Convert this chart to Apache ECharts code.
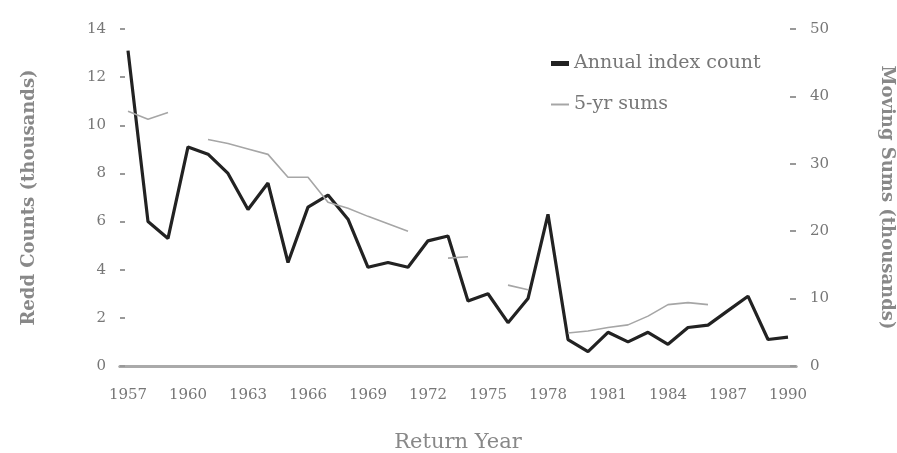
<!DOCTYPE html>
<html>
<head>
<meta charset="utf-8">
<script src="https://cdn.jsdelivr.net/npm/echarts@6/dist/echarts.min.js"></script>
<style>
  html, body { margin: 0; padding: 0; background: #fff; }
  #chart { width: 897px; height: 453px; }
</style>
</head>
<body>
<div id="chart"></div>
<script>
const years = [1957, 1958, 1959, 1960, 1961, 1962, 1963, 1964, 1965, 1966, 1967, 1968,
  1969, 1970, 1971, 1972, 1973, 1974, 1975, 1976, 1977, 1978, 1979, 1980, 1981, 1982,
  1983, 1984, 1985, 1986, 1987, 1988, 1989, 1990];

// redd counts, thousands (left axis)
const annualCounts = [13.1, 6.0, 5.3, 9.1, 8.8, 8.0, 6.5, 7.6, 4.3, 6.6, 7.1, 6.1,
  4.1, 4.3, 4.1, 5.2, 5.4, 2.7, 3.0, 1.8, 2.8, 6.3, 1.1, 0.6, 1.4, 1.0,
  1.4, 0.9, 1.6, 1.7, 2.3, 2.9, 1.1, 1.2];

// moving 5-yr sums, thousands (right axis); null where the line is missing
const fiveYrSums = [37.8, 36.6, 37.6, null, 33.6, 33.0, 32.2, 31.4, 28.0, 28.0, 24.3, 23.4,
  22.2, 21.1, 20.0, null, 16.0, 16.2, null, 12.0, 11.3, null, 4.9, 5.2, 5.7, 6.1,
  7.4, 9.1, 9.4, 9.1, null, null, null, null];

const yearLabels = [1957, 1960, 1963, 1966, 1969, 1972, 1975, 1978, 1981, 1984, 1987, 1990];

const font = 'DejaVu Serif';
const labelColor = '#777';
const frameColor = '#aaa';
const annualColor = '#222';
const sumsColor = '#a6a6a6';

const chart = echarts.init(document.getElementById('chart'));

const legendText = { fontFamily: font, fontSize: 19, color: labelColor };

chart.setOption({
  animation: false,
  backgroundColor: '#fff',
  textStyle: { fontFamily: font },
  grid: { left: 120, right: 101, top: 29, bottom: 87, outerBoundsMode: 'none' },
  legend: [
    {
      left: 546, top: 49,
      itemWidth: 18, itemHeight: 5,
      icon: 'rect',
      textStyle: legendText,
      data: ['Annual index count']
    },
    {
      left: 546, top: 90,
      itemWidth: 18, itemHeight: 2,
      icon: 'rect',
      textStyle: legendText,
      data: ['5-yr sums']
    }
  ],
  xAxis: [
    {
      type: 'value',
      min: 1956.6,
      max: 1990.4,
      name: 'Return Year',
      nameLocation: 'middle',
      nameGap: 66,
      nameTextStyle: { fontFamily: font, fontSize: 21, color: '#888' },
      axisLine: { show: true, lineStyle: { color: frameColor, width: 3 } },
      axisTick: { show: false },
      splitLine: { show: false },
      axisLabel: {
        customValues: yearLabels,
        margin: 22,
        fontSize: 15,
        color: labelColor,
        formatter: v => String(v)
      }
    },
    {
      type: 'value',
      position: 'top',
      min: 1956.6,
      max: 1990.4,
      axisLine: { show: true, lineStyle: { color: frameColor, width: 3 } },
      axisTick: { show: false },
      axisLabel: { show: false },
      splitLine: { show: false }
    }
  ],
  yAxis: [
    {
      type: 'value',
      min: 0,
      max: 14,
      interval: 2,
      name: 'Redd Counts (thousands)',
      nameLocation: 'middle',
      nameRotate: 90,
      nameGap: 82,
      nameTextStyle: { fontFamily: font, fontSize: 18, fontWeight: 'bold', color: '#888' },
      axisLine: { show: false },
      axisTick: { show: true, inside: true, length: 5, lineStyle: { color: '#999', width: 2 } },
      splitLine: { show: false },
      axisLabel: { margin: 14, fontSize: 15, color: labelColor }
    },
    {
      type: 'value',
      min: 0,
      max: 50,
      interval: 10,
      position: 'right',
      name: 'Moving Sums (thousands)',
      nameLocation: 'middle',
      nameRotate: -90,
      nameGap: 82,
      nameTextStyle: { fontFamily: font, fontSize: 18, fontWeight: 'bold', color: '#888' },
      axisLine: { show: false },
      axisTick: { show: true, inside: true, length: 6, lineStyle: { color: '#999', width: 2 } },
      splitLine: { show: false },
      axisLabel: { margin: 14, fontSize: 15, color: labelColor }
    }
  ],
  series: [
    {
      name: 'Annual index count',
      type: 'line',
      yAxisIndex: 0,
      symbol: 'none',
      lineStyle: { color: annualColor, width: 3.2 },
      itemStyle: { color: annualColor },
      data: years.map((y, i) => [y, annualCounts[i]])
    },
    {
      name: '5-yr sums',
      type: 'line',
      yAxisIndex: 1,
      symbol: 'none',
      connectNulls: false,
      lineStyle: { color: sumsColor, width: 1.6 },
      itemStyle: { color: sumsColor },
      data: years.map((y, i) => [y, fiveYrSums[i]])
    }
  ]
});
</script>
</body>
</html>
